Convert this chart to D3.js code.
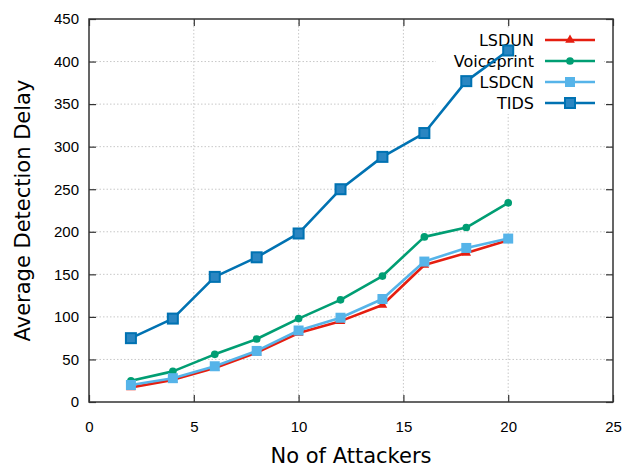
<!DOCTYPE html>
<html>
<head>
<meta charset="utf-8">
<script src="https://cdn.jsdelivr.net/npm/d3@7"></script>
<style>
  html, body { margin: 0; padding: 0; background: #fff; }
  svg { display: block; font-family: "DejaVu Sans", Verdana, sans-serif; }
</style>
</head>
<body>
<svg id="chart" width="629" height="469"></svg>
<script>
// Detection delay versus number of attackers
const attackers = [2, 4, 6, 8, 10, 12, 14, 16, 18, 20];
const lsdun      = [17, 26, 40, 58, 81, 95, 114, 161, 175, 190];
const voiceprint = [25, 36, 56, 74, 98, 120, 148, 194, 205, 234];
const lsdcn      = [20, 28, 42, 60, 84, 99, 121, 165, 181, 192];
const tids       = [75, 98, 147, 170, 198, 250, 288, 316, 377, 413];
const xTicks = [0, 5, 10, 15, 20, 25];
const yTicks = [0, 50, 100, 150, 200, 250, 300, 350, 400, 450];

const series = [
  { name: "LSDUN", values: lsdun, color: "#e51e10", marker: "triangle" },
  { name: "Voiceprint", values: voiceprint, color: "#009e73", marker: "circle" },
  { name: "LSDCN", values: lsdcn, color: "#56b4e9", marker: "square" },
  { name: "TIDS", values: tids, color: "#0072b2", marker: "boxsquare" }
];

const margin = { left: 89, right: 16, top: 19, bottom: 67 };
const W = 629, H = 469;
const svg = d3.select("#chart");

const x = d3.scaleLinear().domain([0, 25]).range([margin.left, W - margin.right]);
const y = d3.scaleLinear().domain([0, 450]).range([H - margin.bottom, margin.top]);

// grid
const grid = svg.append("g");
grid.selectAll(".gx").data(xTicks.slice(1, -1)).join("line")
  .attr("x1", d => x(d)).attr("x2", d => x(d))
  .attr("y1", y(0)).attr("y2", y(450))
  .attr("stroke", "#c8c8c8").attr("stroke-width", 1).attr("stroke-dasharray", "1.5,2");
grid.selectAll(".gy").data(yTicks.slice(1, -1)).join("line")
  .attr("x1", x(0)).attr("x2", x(25))
  .attr("y1", d => y(d)).attr("y2", d => y(d))
  .attr("stroke", "#c8c8c8").attr("stroke-width", 1).attr("stroke-dasharray", "1.5,2");

// axes with inward ticks
const tickStyle = g => {
  g.select(".domain").remove();
  g.selectAll(".tick line").attr("stroke", "#333").attr("stroke-width", 1.2);
  g.selectAll(".tick text").attr("fill", "#000").style("font-size", "15px");
};
svg.append("g").attr("transform", `translate(0,${y(0)})`)
  .call(d3.axisBottom(x).tickValues(xTicks).tickSizeInner(-7).tickSizeOuter(0).tickPadding(19))
  .call(tickStyle);
svg.append("g").attr("transform", `translate(${x(0)},0)`)
  .call(d3.axisLeft(y).tickValues(yTicks).tickSizeInner(-7).tickSizeOuter(0).tickPadding(10))
  .call(tickStyle);
svg.append("g").attr("transform", `translate(0,${y(450)})`)
  .call(d3.axisTop(x).tickValues(xTicks).tickSizeInner(-7).tickSizeOuter(0).tickFormat(""))
  .call(tickStyle);
svg.append("g").attr("transform", `translate(${x(25)},0)`)
  .call(d3.axisRight(y).tickValues(yTicks).tickSizeInner(-7).tickSizeOuter(0).tickFormat(""))
  .call(tickStyle);

// markers
function drawMarker(g, type, color, size) {
  if (type === "triangle") {
    g.append("path").attr("d", d3.symbol(d3.symbolTriangle, size * 5)()).attr("fill", color);
  } else if (type === "circle") {
    g.append("circle").attr("r", size * 0.48).attr("fill", color);
  } else if (type === "square") {
    g.append("rect").attr("x", -size / 2).attr("y", -size / 2).attr("width", size).attr("height", size).attr("fill", color);
  } else {
    g.append("rect").attr("x", -size / 2).attr("y", -size / 2).attr("width", size).attr("height", size)
      .attr("fill", "#2a86c2").attr("stroke", color).attr("stroke-width", 2);
  }
}
const markerSize = { triangle: 8, circle: 8, square: 10, boxsquare: 10 };

// legend (drawn beneath the data lines)
const legend = svg.append("g");
legend.append("rect").attr("x", 436).attr("y", 28).attr("width", 168).attr("height", 86).attr("fill", "#fff");
series.forEach((s, i) => {
  const cy = 40 + i * 21;
  legend.append("text").attr("x", 534).attr("y", cy).attr("dy", "0.36em")
    .attr("text-anchor", "end").style("font-size", "16px").text(s.name);
  legend.append("line").attr("x1", 545).attr("x2", 595).attr("y1", cy).attr("y2", cy)
    .attr("stroke", s.color).attr("stroke-width", 2.6);
  const g = legend.append("g").attr("transform", `translate(570,${cy})`);
  drawMarker(g, s.marker, s.color, markerSize[s.marker]);
});

// frame
svg.append("rect")
  .attr("x", x(0)).attr("y", y(450))
  .attr("width", x(25) - x(0)).attr("height", y(0) - y(450))
  .attr("fill", "none").attr("stroke", "#333").attr("stroke-width", 1.5);

// data series
const line = d3.line().x(d => x(d[0])).y(d => y(d[1]));
series.forEach(s => {
  const pts = attackers.map((a, i) => [a, s.values[i]]);
  svg.append("path").datum(pts).attr("d", line)
    .attr("fill", "none").attr("stroke", s.color).attr("stroke-width", 2.6)
    .attr("stroke-linejoin", "round");
  pts.forEach(p => {
    const g = svg.append("g").attr("transform", `translate(${x(p[0])},${y(p[1])})`);
    drawMarker(g, s.marker, s.color, markerSize[s.marker]);
  });
});

// axis titles
svg.append("text").attr("x", (x(0) + x(25)) / 2).attr("y", 463)
  .attr("text-anchor", "middle").style("font-size", "21px").text("No of Attackers");
svg.append("text").attr("transform", `translate(30,${(y(0) + y(450)) / 2}) rotate(-90)`)
  .attr("text-anchor", "middle").style("font-size", "21px").text("Average Detection Delay");
</script>
</body>
</html>
